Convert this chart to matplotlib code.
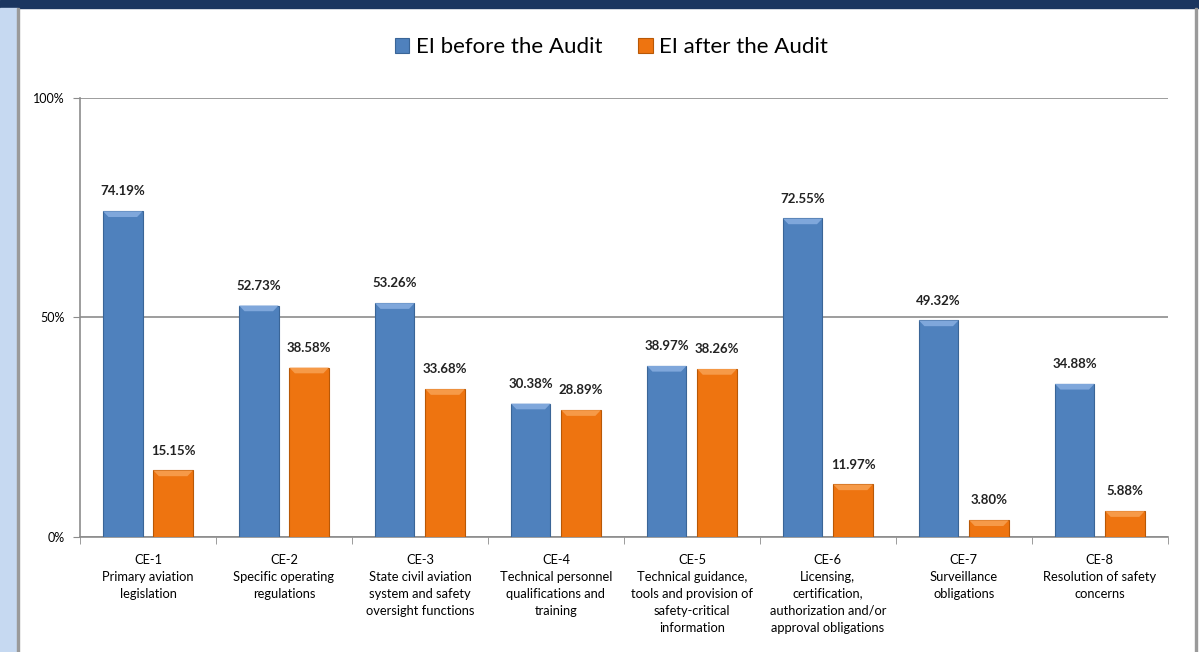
import matplotlib
matplotlib.use("Agg")
import matplotlib.pyplot as plt
from matplotlib.patches import Rectangle, Polygon
import numpy as np

plt.rcParams['font.family'] = ['Lato', 'DejaVu Sans']

codes = ["CE-1", "CE-2", "CE-3", "CE-4", "CE-5", "CE-6", "CE-7", "CE-8"]
names = ["Primary aviation\nlegislation",
         "Specific operating\nregulations",
         "State civil aviation\nsystem and safety\noversight functions",
         "Technical personnel\nqualifications and\ntraining",
         "Technical guidance,\ntools and provision of\nsafety-critical\ninformation",
         "Licensing,\ncertification,\nauthorization and/or\napproval obligations",
         "Surveillance\nobligations",
         "Resolution of safety\nconcerns"]
ei_before = [74.19, 52.73, 53.26, 30.38, 38.97, 72.55, 49.32, 34.88]
ei_after = [15.15, 38.58, 33.68, 28.89, 38.26, 11.97, 3.80, 5.88]

blue = "#4f81bd"
orange = "#ee7410"

fig = plt.figure(figsize=(11.99, 6.52), dpi=100)

# window decorations
fig.patches.append(Rectangle((0, 0.988), 1, 0.012, transform=fig.transFigure,
                             color="#1b3660", zorder=0))
fig.patches.append(Rectangle((0, 0), 0.014, 0.988, transform=fig.transFigure,
                             color="#c6d9f1", zorder=0))
fig.patches.append(Rectangle((0.014, 0), 0.0017, 0.988, transform=fig.transFigure,
                             color="#9a9a9a", zorder=0))
fig.patches.append(Rectangle((0.997, 0), 0.0017, 0.988, transform=fig.transFigure,
                             color="#9a9a9a", zorder=0))

ax = fig.add_axes([0.0667, 0.1764, 0.9073, 0.6733])

x = np.arange(len(codes))
w = 0.29
off = 0.185
b1 = ax.bar(x - off, ei_before, w, color=blue, edgecolor="#3a6597", linewidth=0.8,
            label="EI before the Audit", zorder=3)
b2 = ax.bar(x + off, ei_after, w, color=orange, edgecolor="#b85806", linewidth=0.8,
            label="EI after the Audit", zorder=3)

# lighter bevel (trapezoid) at top of each bar
bev_h, bev_in = 1.3, 0.04
for bars, c in ((b1, "#7fa7db"), (b2, "#f69a48")):
    for r in bars:
        h = r.get_height()
        x0, x1 = r.get_x(), r.get_x() + r.get_width()
        ax.add_patch(Polygon([(x0, h), (x1, h), (x1 - bev_in, h - bev_h),
                              (x0 + bev_in, h - bev_h)],
                             closed=True, color=c, zorder=4, linewidth=0))

for bars, vals in ((b1, ei_before), (b2, ei_after)):
    for r, v in zip(bars, vals):
        ax.annotate(f"{v:.2f}%", (r.get_x() + r.get_width() / 2, v),
                    xytext=(0, 10), textcoords="offset points",
                    ha="center", va="bottom", fontsize=9.5, fontweight="bold",
                    color="#222222")

ax.set_xlim(-0.5, len(codes) - 0.5)
ax.set_ylim(0, 100)
ax.set_yticks([0, 50, 100])
ax.set_yticklabels(["0%", "50%", "100%"], fontsize=9)
ax.yaxis.grid(True, color="#8c8c8c", linewidth=1.2, zorder=0)
ax.set_axisbelow(True)

ax.set_xticks(x)
ax.set_xticklabels([f"{c}\n{n}" for c, n in zip(codes, names)], fontsize=9.3,
                   linespacing=1.5, va="top")
ax.tick_params(axis="x", length=0, pad=12)
ax.set_xticks(np.arange(-0.5, len(codes)), minor=True)
ax.tick_params(axis="x", which="minor", length=5, color="#8c8c8c")
ax.tick_params(axis="y", length=5, color="#8c8c8c", pad=6)

for s in ("top", "right"):
    ax.spines[s].set_visible(False)
for s in ("left", "bottom"):
    ax.spines[s].set_color("#8c8c8c")
    ax.spines[s].set_linewidth(1.2)

fig.legend(handles=[b1, b2], loc="center", bbox_to_anchor=(0.51, 0.928),
           ncol=2, frameon=False, fontsize=16, handlelength=0.65,
           handleheight=0.65, handletextpad=0.3, columnspacing=1.6)

fig.savefig("out.png", dpi=100)
